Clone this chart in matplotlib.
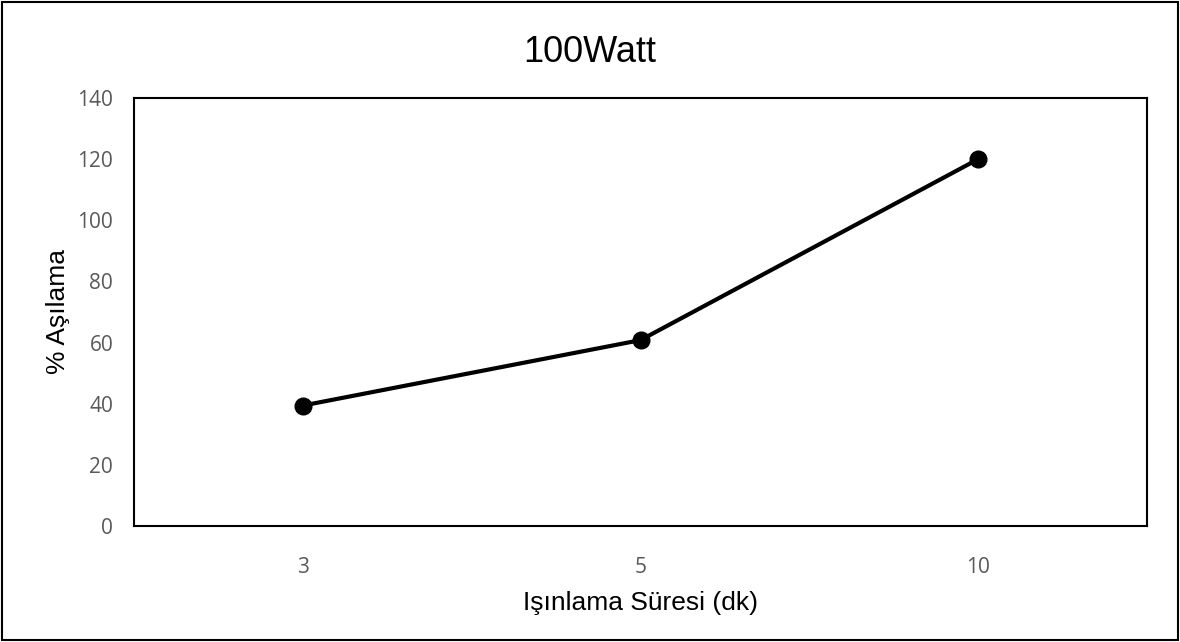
import matplotlib
matplotlib.use('Agg')
import matplotlib.pyplot as plt
from matplotlib.patches import Rectangle

# data
sureler = ['3', '5', '10']
asilama = [39.4, 60.8, 120.0]
y_ticks = [0, 20, 40, 60, 80, 100, 120, 140]

fig = plt.figure(figsize=(11.8, 6.42), dpi=100)
ax = fig.add_axes([134/1180, 1 - 526/642, (1147 - 134)/1180, (526 - 98)/642])

x = list(range(len(sureler)))
ax.plot(x, asilama, color='black', linewidth=3, marker='o', markersize=12,
        markerfacecolor='black', markeredgecolor='black')

ax.set_xlim(-0.5, len(sureler) - 0.5)
ax.set_ylim(0, 140)
ax.set_xticks(x)
ax.set_xticklabels(sureler)
ax.set_yticks(y_ticks)

for s in ax.spines.values():
    s.set_linewidth(1.5)
    s.set_color('black')

ax.tick_params(length=0, labelsize=15, labelcolor='#595959')
for lbl in ax.get_xticklabels() + ax.get_yticklabels():
    lbl.set_fontfamily('Open Sans')
ax.tick_params(axis='x', pad=22)
ax.tick_params(axis='y', pad=15)

ax.set_xlabel('Işınlama Süresi (dk)', fontsize=19, family='Liberation Sans', labelpad=10)
ax.set_ylabel('% Aşılama', fontsize=19, family='Liberation Sans', labelpad=5)

fig.text(0.5, 1 - 53/642, '100Watt', ha='center', va='center',
         fontsize=26, family='Liberation Sans')

# outer chart border
fig.patches.append(Rectangle((2/1180, 2/642), 1176/1180, 638/642, transform=fig.transFigure,
                             fill=False, edgecolor='black', linewidth=1.5))

fig.savefig('out.png', dpi=100)
